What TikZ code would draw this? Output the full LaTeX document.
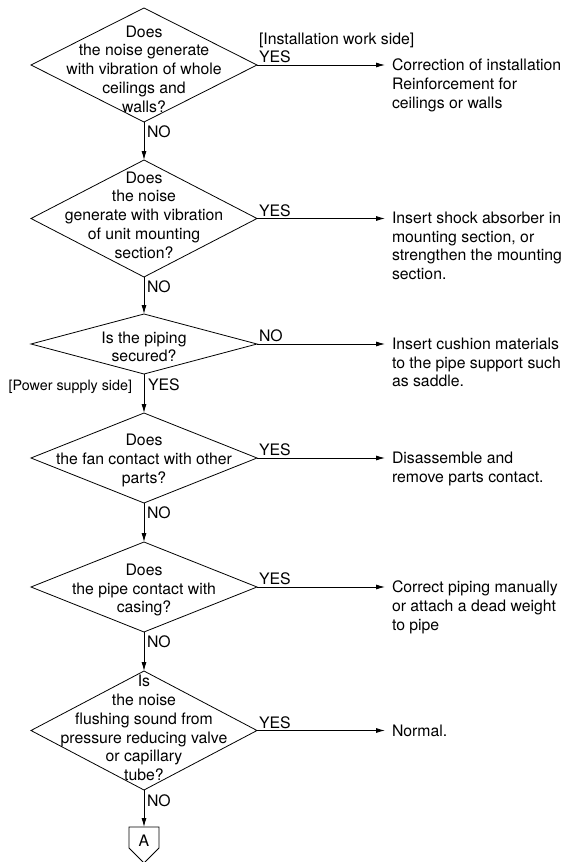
\documentclass[tikz,border=0pt]{standalone}
\usepackage{fontspec}
\setmainfont{TeX Gyre Heros}
\usetikzlibrary{shapes.geometric,arrows.meta}

\begin{document}
\begin{tikzpicture}[x=1pt,y=-1pt,
  every node/.style={font=\fontsize{15.8}{18.7}\selectfont, inner sep=0pt, outer sep=0pt},
  decision/.style={diamond, draw, line width=0.8pt, minimum width=226pt, minimum height=#1},
  question/.style={align=center},
  action/.style={align=left, anchor=north west},
  lbl/.style={anchor=base west},
  flow/.style={line width=0.8pt, -{Latex[length=9pt,width=5pt]}},
  tojump/.style={flow, shorten >=7pt}]

\useasboundingbox (0,0) rectangle (566,862);

% decision diamonds
\node[decision=114pt] (d1) at (144,65) {};
\node[decision=117pt] (d2) at (144,218.5) {};
\node[decision=60pt]  (d3) at (144,344) {};
\node[decision=90pt]  (d4) at (144,458) {};
\node[decision=90pt]  (d5) at (144,587) {};
\node[decision=119pt] (d6) at (144,730.5) {};

% questions
\node[question] (q1) at (144,69) {Does\\the noise generate\\with vibration of whole\\ceilings and\\walls?};
\node[question] (q2) at (144,215) {Does\\the noise\\generate with vibration\\of unit mounting\\section?};
\node[question] (q3) at (144,347) {Is the piping\\secured?};
\node[question] (q4) at (144,460.5) {Does\\the fan contact with other\\parts?};
\node[question] (q5) at (144,590) {Does\\the pipe contact with\\casing?};
\node[question] (q6) at (144,728) {Is\\the noise\\flushing sound from\\pressure reducing valve\\or capillary\\tube?};

% remedies
\node[action] (a1) at (392,59) {Correction of installation\\Reinforcement for\\ceilings or walls};
\node[action] (a2) at (392,212) {Insert shock absorber in\\mounting section, or\\strengthen the mounting\\section.};
\node[action] (a3) at (392,338) {Insert cushion materials\\to the pipe support such\\as saddle.};
\node[action] (a4) at (392,452) {Disassemble and\\remove parts contact.};
\node[action] (a5) at (392,581) {Correct piping manually\\or attach a dead weight\\to pipe};
\node[action] (a6) at (392,724.5) {Normal.};

% off-page connector
\node[minimum width=30pt, minimum height=21pt] (A) at (144,837.5) {};
\node (Atxt) at (144,841) {A};
\draw[line width=0.8pt] (A.south west) -- (A.north west) -- (A.north east) -- (A.south east) -- (144,863) -- cycle;

% main line
\draw[flow] (d1.south) -- (d2.north);
\draw[flow] (d2.south) -- (d3.north);
\draw[flow] (d3.south) -- (d4.north);
\draw[flow] (d4.south) -- (d5.north);
\draw[flow] (d5.south) -- (d6.north);
\draw[flow] (d6.south) -- (A.north);

% branches
\draw[tojump] (d1.east) -- (d1.east -| a1.west);
\draw[tojump] (d2.east) -- (d2.east -| a2.west);
\draw[tojump] (d3.east) -- (d3.east -| a3.west);
\draw[tojump] (d4.east) -- (d4.east -| a4.west);
\draw[tojump] (d5.east) -- (d5.east -| a5.west);
\draw[tojump] (d6.east) -- (d6.east -| a6.west);

% branch labels
\node[lbl] (s1) at (259,44.7) {[Installation work side]};
\node[lbl] (y1) at (259,62.6) {YES};
\node[lbl] (y2) at (259,216) {YES};
\node[lbl] (n3) at (259,341) {NO};
\node[lbl] (y4) at (259,455.6) {YES};
\node[lbl] (y5) at (259,584.6) {YES};
\node[lbl] (y6) at (259,728) {YES};

\node[lbl] (n1) at (147,137.6) {NO};
\node[lbl] (n2) at (147,292.6) {NO};
\node[lbl] (y3) at (148,390.6) {YES};
\node[anchor=base east, font=\fontsize{14.3}{17}\selectfont] (s3) at (132,390.6) {[Power supply side]};
\node[lbl] (n4) at (147,518.6) {NO};
\node[lbl] (n5) at (147,647.6) {NO};
\node[lbl] (n6) at (147,806.6) {NO};
\end{tikzpicture}
\end{document}
